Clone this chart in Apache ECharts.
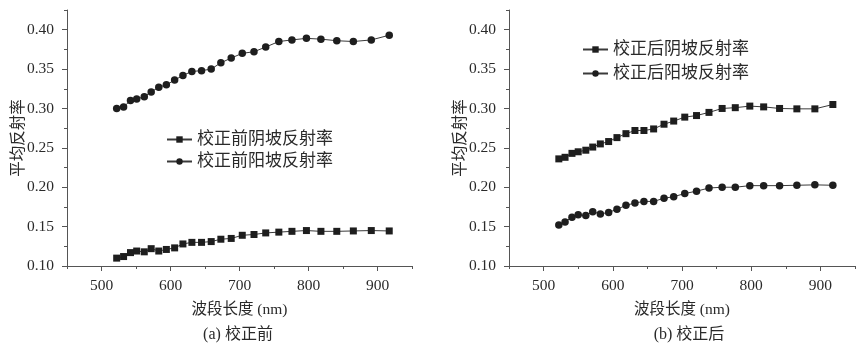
<!DOCTYPE html>
<html>
<head>
<meta charset="utf-8">
<script src="https://cdn.jsdelivr.net/npm/echarts@6/dist/echarts.min.js"></script>
<style>
  html, body { margin: 0; padding: 0; background: #fff; }
  #chart { width: 860px; height: 347px; }
</style>
</head>
<body>
<div id="chart"></div>
<script>
// Band centre wavelengths (nm)
const wavelengthsBefore = [522, 532, 542, 551, 562, 572, 583, 594, 606, 618, 631, 645, 659, 673, 688, 704, 721, 738, 757, 776, 797, 818, 841, 865, 891, 917];
const wavelengthsAfter  = [522, 531, 541, 550, 561, 571, 582, 594, 606, 619, 632, 645, 659, 674, 688, 704, 721, 739, 758, 777, 798, 818, 841, 866, 892, 918];

// Mean reflectance before correction
const shadyBefore = [0.110, 0.112, 0.117, 0.119, 0.118, 0.122, 0.119, 0.121, 0.123, 0.128, 0.130, 0.130, 0.131, 0.134, 0.135, 0.139, 0.140, 0.142, 0.143, 0.144, 0.145, 0.144, 0.144, 0.1445, 0.145, 0.1445];
const sunnyBefore = [0.300, 0.302, 0.310, 0.312, 0.315, 0.321, 0.327, 0.330, 0.336, 0.342, 0.347, 0.348, 0.350, 0.358, 0.364, 0.370, 0.372, 0.378, 0.385, 0.387, 0.389, 0.388, 0.386, 0.385, 0.387, 0.393];

// Mean reflectance after correction
const shadyAfter = [0.236, 0.238, 0.243, 0.245, 0.247, 0.251, 0.255, 0.258, 0.263, 0.268, 0.272, 0.272, 0.274, 0.280, 0.284, 0.289, 0.291, 0.295, 0.300, 0.301, 0.303, 0.302, 0.300, 0.2995, 0.2995, 0.305];
const sunnyAfter = [0.152, 0.156, 0.162, 0.165, 0.164, 0.169, 0.166, 0.168, 0.172, 0.177, 0.180, 0.182, 0.182, 0.186, 0.188, 0.192, 0.195, 0.199, 0.200, 0.200, 0.202, 0.202, 0.202, 0.2025, 0.203, 0.2025];

const namesBefore = ['校正前阴坡反射率', '校正前阳坡反射率'];
const namesAfter  = ['校正后阴坡反射率', '校正后阳坡反射率'];
const captions = ['(a) 校正前', '(b) 校正后'];
const xAxisTitle = '波段长度 (nm)';
const yAxisTitle = '平均反射率';

const xMajorTicks = [500, 600, 700, 800, 900];
const xMinorTicks = [450, 550, 650, 750, 850, 950];
const yMajorTicks = [0.10, 0.15, 0.20, 0.25, 0.30, 0.35, 0.40];
const yMinorTicks = [0.125, 0.175, 0.225, 0.275, 0.325, 0.375, 0.425];

const serif = '"Liberation Serif", "Noto Sans CJK SC", serif';
const textColor = '#2a2a2a';
const axisColor = '#555';

function pairs(xs, ys) { return xs.map((x, i) => [x, ys[i]]); }

function makeXAxes(gridIndex) {
  return [
    {
      type: 'value', gridIndex, min: 450, max: 950, position: 'bottom',
      name: xAxisTitle, nameLocation: 'middle', nameGap: 36,
      nameTextStyle: { fontFamily: serif, fontSize: 15.5, color: textColor },
      axisLine: { show: true, lineStyle: { color: axisColor, width: 1 } },
      axisTick: { show: true, customValues: xMajorTicks, length: 5, inside: false, lineStyle: { color: axisColor } },
      axisLabel: { customValues: xMajorTicks, fontFamily: serif, fontSize: 15.5, color: textColor, margin: 12 },
      splitLine: { show: false }
    },
    {
      type: 'value', gridIndex, min: 450, max: 950, position: 'bottom',
      axisLine: { show: false },
      axisTick: { show: true, customValues: xMinorTicks, length: 3, lineStyle: { color: axisColor } },
      axisLabel: { show: false },
      splitLine: { show: false }
    }
  ];
}

function makeYAxes(gridIndex) {
  return [
    {
      type: 'value', gridIndex, min: 0.1, max: 0.425, position: 'left',
      name: yAxisTitle, nameLocation: 'middle', nameGap: 40, nameRotate: 90,
      nameMoveOverlap: false,
      nameTextStyle: { fontFamily: serif, fontSize: 15.5, color: textColor },
      axisLine: { show: true, lineStyle: { color: axisColor, width: 1 } },
      axisTick: { show: true, customValues: yMajorTicks, length: 5, lineStyle: { color: axisColor } },
      axisLabel: {
        customValues: yMajorTicks, fontFamily: serif, fontSize: 15.5, color: textColor, margin: 13,
        formatter: v => v.toFixed(2)
      },
      splitLine: { show: false }
    },
    {
      type: 'value', gridIndex, min: 0.1, max: 0.425, position: 'left',
      axisLine: { show: false },
      axisTick: { show: true, customValues: yMinorTicks, length: 3, lineStyle: { color: axisColor } },
      axisLabel: { show: false },
      splitLine: { show: false }
    }
  ];
}

function lineSeries(name, symbol, xs, ys, axisIndex) {
  return {
    name, type: 'line', xAxisIndex: axisIndex, yAxisIndex: axisIndex,
    data: pairs(xs, ys),
    symbol, symbolSize: symbol === 'circle' ? 7.5 : 7,
    showAllSymbol: true,
    lineStyle: { color: '#3a3a3a', width: 1 },
    itemStyle: { color: '#1e1e1e', borderWidth: 0 },
    emphasis: { disabled: true },
    animation: false
  };
}

const legendText = { fontFamily: serif, fontSize: 17, color: textColor };

const option = {
  backgroundColor: '#fff',
  animation: false,
  title: [
    { text: captions[0], left: 233, top: 322, textAlign: 'center',
      textStyle: { fontFamily: serif, fontSize: 16, fontWeight: 'normal', color: textColor } },
    { text: captions[1], left: 684, top: 322, textAlign: 'center',
      textStyle: { fontFamily: serif, fontSize: 16, fontWeight: 'normal', color: textColor } }
  ],
  legend: [
    { data: namesBefore, orient: 'vertical', left: 161, top: 126, itemWidth: 25, itemHeight: 8,
      itemGap: 5, textStyle: legendText, selectedMode: false },
    { data: namesAfter, orient: 'vertical', left: 577, top: 36, itemWidth: 25, itemHeight: 8,
      itemGap: 7, textStyle: legendText, selectedMode: false }
  ],
  grid: [
    { left: 67, top: 10, width: 345, height: 256 },
    { left: 509, top: 10, width: 346, height: 256 }
  ],
  xAxis: [...makeXAxes(0), ...makeXAxes(1)],
  yAxis: [...makeYAxes(0), ...makeYAxes(1)],
  series: [
    lineSeries(namesBefore[0], 'rect', wavelengthsBefore, shadyBefore, 0),
    lineSeries(namesBefore[1], 'circle', wavelengthsBefore, sunnyBefore, 0),
    lineSeries(namesAfter[0], 'rect', wavelengthsAfter, shadyAfter, 2),
    lineSeries(namesAfter[1], 'circle', wavelengthsAfter, sunnyAfter, 2)
  ]
};

echarts.init(document.getElementById('chart'), null, { renderer: 'canvas' }).setOption(option);
</script>
</body>
</html>
